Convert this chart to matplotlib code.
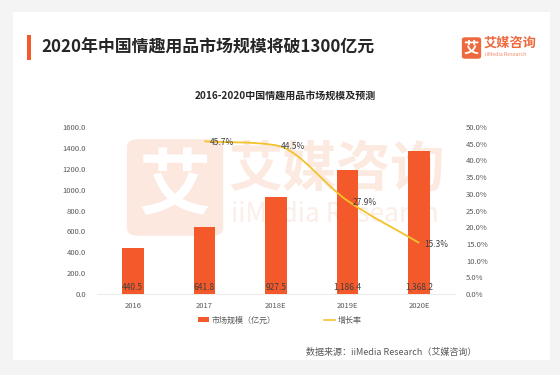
import matplotlib

matplotlib.use("Agg")

import matplotlib.pyplot as plt
from matplotlib.patches import FancyBboxPatch, PathPatch, Rectangle
from matplotlib.path import Path
from matplotlib.lines import Line2D

plt.rcParams["font.family"] = ["Noto Sans CJK SC", "DejaVu Sans"]

years = ["2016", "2017", "2018E", "2019E", "2020E"]
market_size = [440.5, 641.8, 927.5, 1186.4, 1368.2]
growth_years = [1, 2, 3, 4]
growth_rate = [45.7, 44.5, 27.9, 15.3]
left_ticks = [0, 200, 400, 600, 800, 1000, 1200, 1400, 1600]
right_ticks = [0, 5, 10, 15, 20, 25, 30, 35, 40, 45, 50]

BAR_COLOR = "#F4592B"
LINE_COLOR = "#F3C22C"
TEXT_GREY = "#595959"


def smooth_path(xs, ys):
    """Smoothed line through the points: Catmull-Rom tangents, clamped so no segment overshoots."""
    n = len(xs)
    d = [(ys[i + 1] - ys[i]) / (xs[i + 1] - xs[i]) for i in range(n - 1)]
    m = [d[0]]
    for i in range(1, n - 1):
        t = (ys[i + 1] - ys[i - 1]) / (xs[i + 1] - xs[i - 1])
        if d[i - 1] * d[i] <= 0:
            t = 0.0
        lim = 3 * min(abs(d[i - 1]), abs(d[i]))
        m.append(max(-lim, min(lim, t)))
    m.append(d[-1])
    verts = [(xs[0], ys[0])]
    codes = [Path.MOVETO]
    for i in range(n - 1):
        h = xs[i + 1] - xs[i]
        verts += [
            (xs[i] + h / 3, ys[i] + m[i] * h / 3),
            (xs[i + 1] - h / 3, ys[i + 1] - m[i + 1] * h / 3),
            (xs[i + 1], ys[i + 1]),
        ]
        codes += [Path.CURVE4] * 3
    return Path(verts, codes)


fig = plt.figure(figsize=(5.6, 3.75), dpi=100, facecolor="#f4f4f4")
fig.patches.append(
    Rectangle((13 / 560, 1 - 360 / 375), 537 / 560, 348 / 375,
              transform=fig.transFigure, facecolor="white", edgecolor="none", zorder=0)
)

# header
fig.patches.append(
    Rectangle((27 / 560, 1 - 60 / 375), 4 / 560, 25 / 375,
              transform=fig.transFigure, facecolor=BAR_COLOR, edgecolor="none")
)
fig.text(41 / 560, 1 - 48 / 375, "2020年中国情趣用品市场规模将破1300亿元",
         fontsize=12.2, fontweight="bold", color="#262626", va="center")

# logo
fig.patches.append(
    FancyBboxPatch((463 / 560, 1 - 58 / 375), 17 / 560, 20 / 375,
                   boxstyle="round,pad=0.002,rounding_size=0.006",
                   transform=fig.transFigure, facecolor="#EE6A3E", edgecolor="none")
)
fig.text(471.5 / 560, 1 - 48 / 375, "艾", fontsize=11, fontweight="bold",
         color="white", ha="center", va="center")
fig.text(484 / 560, 1 - 43 / 375, "艾媒咨询", fontsize=9.5, fontweight="bold",
         color="#EE6A3E", va="center")
fig.text(485 / 560, 1 - 54 / 375, "iiMedia Research", fontsize=3.8,
         color="#EE8A66", va="center")

fig.text(285 / 560, 1 - 97 / 375, "2016-2020中国情趣用品市场规模及预测",
         fontsize=7.2, fontweight="bold", color="#262626", ha="center", va="center")

# watermark
fig.patches.append(
    FancyBboxPatch((128 / 560, 1 - 235 / 375), 94 / 560, 95 / 375,
                   boxstyle="round,pad=0.002,rounding_size=0.02",
                   transform=fig.transFigure, facecolor="#FCE8DF", edgecolor="none", zorder=0.5)
)
fig.text(175 / 560, 1 - 188 / 375, "艾", fontsize=52, fontweight="bold",
         color="white", ha="center", va="center", zorder=0.6)
fig.text(228 / 560, 1 - 170 / 375, "艾媒咨询", fontsize=39, fontweight="bold",
         color="#FCE9E0", va="center", zorder=0.6)
fig.text(231 / 560, 1 - 215 / 375, "iiMedia Research", fontsize=19,
         color="#FBEEE8", va="center", zorder=0.6)

ax = fig.add_axes([97 / 560, 1 - 294 / 375, 358 / 560, 167 / 375])
ax.patch.set_alpha(0)
ax.set_zorder(2)
x = list(range(len(years)))
ax.bar(x, market_size, width=0.3, color=BAR_COLOR, zorder=2)
for xi, v in zip(x, market_size):
    ax.text(xi, 65, f"{v:,.1f}", fontsize=6, color="#404040",
            ha="center", va="center", zorder=3)
ax.set_xlim(-0.5, 4.5)
ax.set_ylim(0, 1600)
ax.set_yticks(left_ticks, [f"{t:.1f}" for t in left_ticks])
ax.set_xticks(x, years)
ax.tick_params(axis="both", length=0, labelsize=5.5, labelcolor=TEXT_GREY, pad=6)
ax.tick_params(axis="y", pad=8)
for side in ["top", "right", "left"]:
    ax.spines[side].set_visible(False)
ax.spines["bottom"].set_color("#e6e6e6")
ax.spines["bottom"].set_linewidth(0.6)

ax2 = ax.twinx()
ax2.set_ylim(0, 50)
ax2.set_yticks(right_ticks, [f"{t:.1f}%" for t in right_ticks])
ax2.tick_params(axis="y", length=0, labelsize=5.5, labelcolor=TEXT_GREY, pad=8)
for side in ["top", "right", "left", "bottom"]:
    ax2.spines[side].set_visible(False)
ax2.add_patch(PathPatch(smooth_path(growth_years, growth_rate), facecolor="none",
                        edgecolor=LINE_COLOR, linewidth=1.3, zorder=3))
for xi, v in zip(growth_years, growth_rate):
    ax2.text(xi + 0.07, v - 0.4, f"{v:.1f}%", fontsize=6, color="#404040",
             va="center", ha="left", zorder=4)

# legend
handles = [
    Rectangle((0, 0), 1, 1, facecolor=BAR_COLOR, edgecolor="none"),
    Line2D([0], [0], color=LINE_COLOR, linewidth=1.2),
]
fig.legend(handles, ["市场规模（亿元）", "增长率"], loc="center",
           bbox_to_anchor=(280 / 560, 1 - 320 / 375), ncol=2, frameon=False,
           fontsize=5.8, handlelength=1.4, handleheight=0.6, columnspacing=6,
           handletextpad=0.3, labelcolor=TEXT_GREY)

fig.text(476 / 560, 1 - 352 / 375, "数据来源：iiMedia Research（艾媒咨询）",
         fontsize=6.5, color=TEXT_GREY, ha="right", va="center")

fig.savefig("out.png", dpi=100, facecolor=fig.get_facecolor())
